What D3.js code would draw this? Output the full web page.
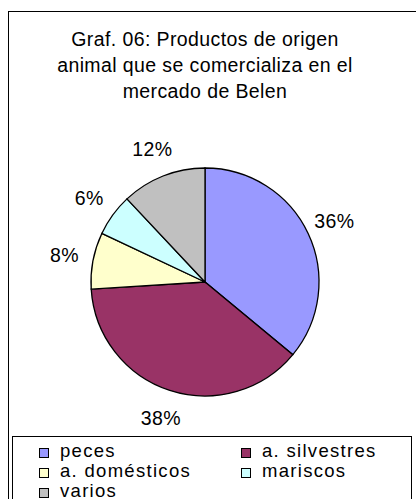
<!DOCTYPE html>
<html>
<head>
<meta charset="utf-8">
<script src="https://cdn.jsdelivr.net/npm/d3@7/dist/d3.min.js"></script>
<style>
  html, body { margin: 0; padding: 0; background: #fff; }
  svg { display: block; font-family: Arial, 'Liberation Sans', sans-serif; }
</style>
</head>
<body>
<div id="chart"></div>
<script>
const width = 416;
const height = 499;

const titleLines = ['Graf. 06: Productos de origen', 'animal que se comercializa en el', 'mercado de Belen'];
const categories = ['peces', 'a. silvestres', 'a. domésticos', 'mariscos', 'varios'];
const values = [36, 38, 8, 6, 12];
const colors = ['#9999FF', '#993366', '#FFFFCC', '#CCFFFF', '#C0C0C0'];

const cx = 205, cy = 282, r = 114;

const svg = d3.select('#chart').append('svg')
	.attr('width', width)
	.attr('height', height);

// outer chart frame
svg.append('rect')
	.attr('x', 8.5).attr('y', 11.5)
	.attr('width', 420).attr('height', 500)
	.attr('fill', '#fff').attr('stroke', '#000');

svg.append('g')
	.selectAll('text')
	.data(titleLines)
	.enter()
	.append('text')
	.attr('x', 205)
	.attr('y', (d, i) => 46 + i * 26)
	.attr('text-anchor', 'middle')
	.style('font-size', '19.5px')
	.style('letter-spacing', '0.4px')
	.text((d) => d);

const pie = d3.pie().sort(null).value((d) => d)(values);
const arc = d3.arc().innerRadius(0).outerRadius(r);
const labelArc = d3.arc().innerRadius(143).outerRadius(143);

const g = svg.append('g').attr('transform', `translate(${cx},${cy})`);

g.selectAll('path')
	.data(pie)
	.enter()
	.append('path')
	.attr('d', arc)
	.attr('fill', (d, i) => colors[i])
	.attr('stroke', '#000')
	.attr('stroke-width', 1.3);

g.selectAll('text')
	.data(pie)
	.enter()
	.append('text')
	.attr('transform', (d) => `translate(${labelArc.centroid(d)})`)
	.attr('text-anchor', 'middle')
	.attr('dy', '0.36em')
	.style('font-size', '19.5px')
	.style('letter-spacing', '0.4px')
	.text((d) => d.data + '%');

// legend
svg.append('rect')
	.attr('x', 12.5).attr('y', 436.5)
	.attr('width', 399).attr('height', 80)
	.attr('fill', '#fff').attr('stroke', '#000');

const legend = svg.append('g')
	.selectAll('g')
	.data(categories)
	.enter()
	.append('g')
	.attr('transform', (d, i) => `translate(${i % 2 ? 241 : 39},${448 + Math.floor(i / 2) * 20})`);

legend.append('rect')
	.attr('x', 0.5).attr('y', 0.5)
	.attr('width', 9).attr('height', 9)
	.attr('fill', (d, i) => colors[i])
	.attr('stroke', '#000');

legend.append('text')
	.attr('x', 21)
	.attr('y', 9)
	.style('font-size', '18.5px')
	.style('letter-spacing', '1.3px')
	.text((d) => d);
</script>
</body>
</html>
